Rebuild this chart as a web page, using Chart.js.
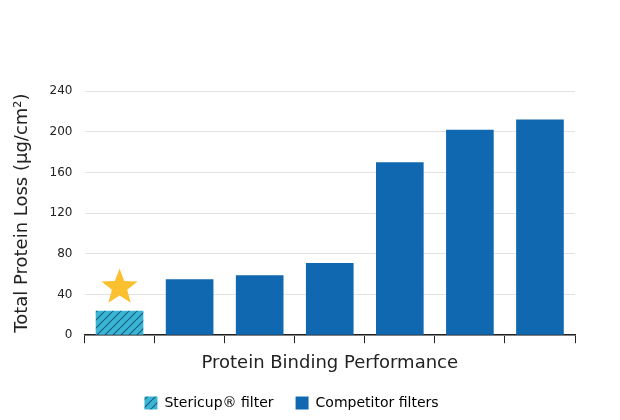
<!DOCTYPE html><html><head><script src="https://cdn.jsdelivr.net/npm/chart.js"></script>
<style>body{margin:0;background:#fff}#w{width:620px;height:420px}</style></head><body><div id="w"><canvas id="c"></canvas></div>
<script>
const categories=['','','','','','',''];
const values=[24,55,59,71,170,202,212];
const yTicks=[0,40,80,120,160,200,240];
const legendLabels=['Stericup® filter','Competitor filters'];
const starValue=47;
function hatch(){const c=document.createElement('canvas');c.width=8;c.height=8;const x=c.getContext('2d');x.fillStyle='#3ab5d6';x.fillRect(0,0,8,8);x.strokeStyle='#17617f';x.lineWidth=1.2;x.beginPath();for(let o=-8;o<=16;o+=8){x.moveTo(o,8);x.lineTo(o+8,0);}x.stroke();return x.createPattern(c,'repeat');}
const ctx=document.getElementById('c').getContext('2d');
const pat=hatch();
const blue='#1068b0';
const starPlugin={id:'star',afterDatasetsDraw(ch){const c=ch.ctx;const x=ch.scales.x.getPixelForValue(0),y=ch.scales.y.getPixelForValue(starValue);const R=19,r=8;c.save();c.fillStyle='#fbc02d';c.beginPath();for(let i=0;i<10;i++){const a=-Math.PI/2+i*Math.PI/5;const rr=i%2?r:R;c.lineTo(x+rr*Math.cos(a),y+rr*Math.sin(a));}c.closePath();c.fill();c.restore();}};
new Chart(ctx,{type:'bar',data:{labels:categories,datasets:[{data:values,backgroundColor:values.map((v,i)=>i===0?pat:blue),barPercentage:0.68,categoryPercentage:1}]},
options:{responsive:true,maintainAspectRatio:false,animation:false,layout:{padding:{top:91,right:45,left:8,bottom:0}},
plugins:{tooltip:{enabled:false},legend:{position:'bottom',labels:{font:{family:'DejaVu Sans',size:14},color:'#222',boxWidth:13,boxHeight:13,padding:22,
generateLabels:()=>legendLabels.map((t,i)=>({text:t,fillStyle:i===0?pat:blue,strokeStyle:'rgba(0,0,0,0)',lineWidth:0}))}}},
scales:{x:{grid:{offset:true,drawOnChartArea:false,tickLength:8,color:'#222'},border:{color:'#222',width:1.5},ticks:{display:true,padding:0,font:{size:1}},title:{display:true,text:'Protein Binding Performance',font:{family:'DejaVu Sans',size:18},color:'#222',padding:{top:8,bottom:0}}},
y:{min:0,max:240,afterBuildTicks:s=>{s.ticks=yTicks.map(v=>({value:v}))},grid:{color:'#e2e2e2',drawTicks:false},border:{display:false},ticks:{font:{family:'DejaVu Sans',size:12},color:'#222',padding:12},title:{display:true,text:'Total Protein Loss (μg/cm²)',font:{family:'DejaVu Sans',size:18},color:'#222'}}}},plugins:[starPlugin]});
</script></body></html>
